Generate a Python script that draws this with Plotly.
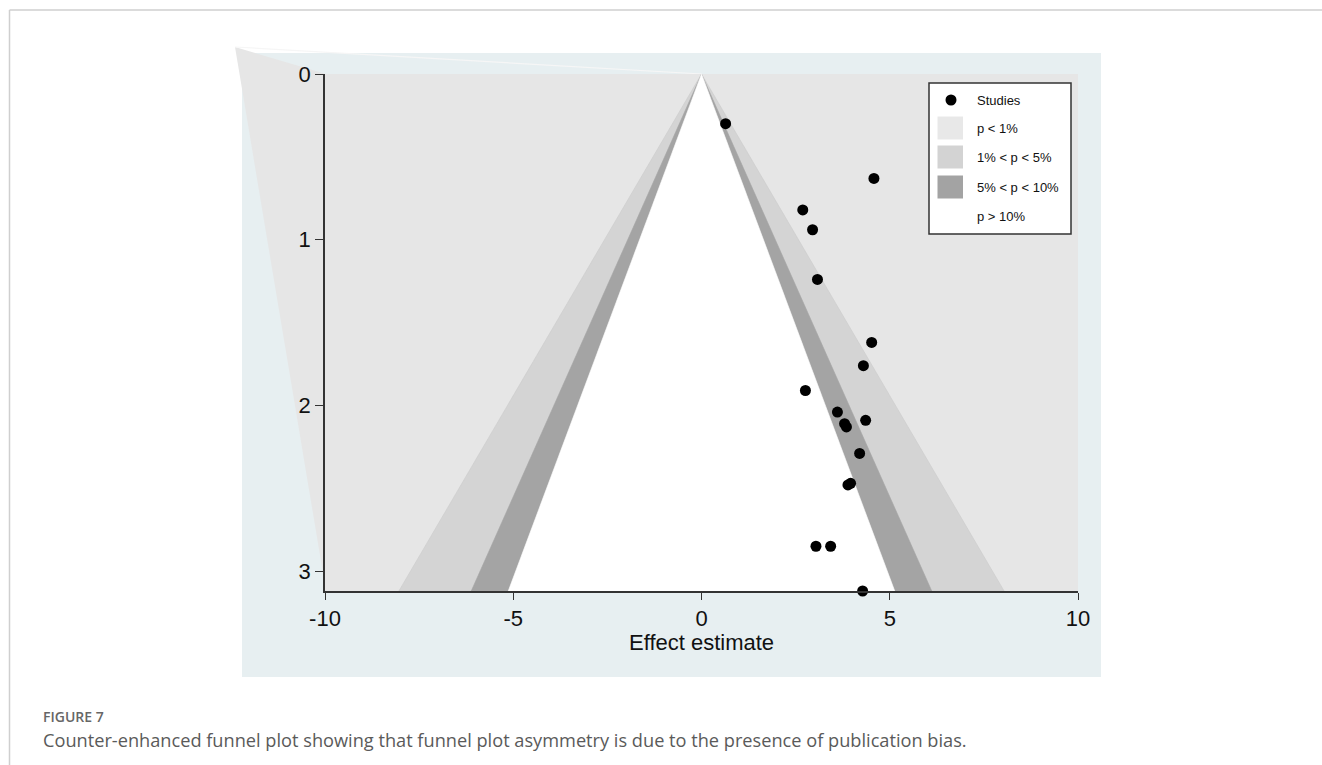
import plotly.graph_objects as go

# ---------------- data ----------------
effect = [0.64, 4.58, 2.69, 2.95, 3.08, 4.52, 4.30, 2.76, 3.61, 4.36,
          3.80, 3.85, 4.20, 3.89, 3.96, 3.04, 3.43, 4.28]
std_err = [0.30, 0.63, 0.82, 0.94, 1.24, 1.62, 1.76, 1.91, 2.04, 2.09,
           2.11, 2.13, 2.29, 2.48, 2.47, 2.85, 2.85, 3.12]
se_max = 3.12
x_range = [-10, 10]
z_levels = [2.576, 1.96, 1.645]          # 1%, 5%, 10% two-sided
band_colors = ["#d4d4d4", "#a4a4a4", "#ffffff"]
p1_color = "#e6e6e6"
legend_labels = ["Studies", "p < 1%", "1% < p < 5%", "5% < p < 10%", "p > 10%"]
legend_swatches = [None, "#e8e8e8", "#d3d3d3", "#a3a3a3", None]
x_ticks = [-10, -5, 0, 5, 10]
x_ticktext = ["-10", "-5", "0", "5", "10"]
y_ticks = [0, 1, 2, 3]
caption_label = "FIGURE 7"
caption_text = ("Counter-enhanced funnel plot showing that funnel plot asymmetry "
                "is due to the presence of publication bias.")

# ---------------- layout geometry (pixels) ----------------
W, H = 1322, 765
PL, PR, PT, PB = 325, 1078, 74, 591   # plot area edges


def px(x):
    return (x - PL) / (PR - PL)


def py(y):
    return (PB - y) / (PB - PT)


fig = go.Figure()

# p < 1% region (whole plot area)
fig.add_trace(go.Scatter(
    x=[x_range[0], x_range[1], x_range[1], x_range[0], x_range[0]],
    y=[0, 0, se_max, se_max, 0],
    mode="lines", fill="toself", fillcolor=p1_color,
    line=dict(width=0, color=p1_color), hoverinfo="skip", showlegend=False,
))

# contour regions
for z, c in zip(z_levels, band_colors):
    fig.add_trace(go.Scatter(
        x=[0, -z * se_max, z * se_max, 0],
        y=[0, se_max, se_max, 0],
        mode="lines", fill="toself", fillcolor=c,
        line=dict(width=0.6, color=c if c != band_colors[0] else "#cbcbcb"),
        hoverinfo="skip", showlegend=False,
    ))

# studies
fig.add_trace(go.Scatter(
    x=effect, y=std_err, mode="markers",
    marker=dict(color="black", size=11),
    cliponaxis=False, showlegend=False, name="Studies",
))

shapes = []
# card border lines
shapes.append(dict(type="line", xref="paper", yref="paper",
                   x0=px(9.5), x1=px(W), y0=py(10), y1=py(10),
                   line=dict(color="#cfcfcf", width=1.5), layer="below"))
shapes.append(dict(type="line", xref="paper", yref="paper",
                   x0=px(9.5), x1=px(9.5), y0=py(10), y1=py(H),
                   line=dict(color="#cfcfcf", width=1.5), layer="below"))
# blue panel
shapes.append(dict(type="rect", xref="paper", yref="paper",
                   x0=px(242), x1=px(1101), y0=py(53), y1=py(677),
                   fillcolor="#e7eff1", line=dict(width=0), layer="below"))
# rendering artifact: stray grey sliver and faint line at top left
shapes.append(dict(type="path", xref="paper", yref="paper",
                   path=f"M{px(235)},{py(47)} L{px(326)},{py(74)} L{px(326)},{py(591)} Z",
                   fillcolor=p1_color, line=dict(width=0), layer="below"))
shapes.append(dict(type="line", xref="paper", yref="paper",
                   x0=px(235), x1=px(701.7), y0=py(47), y1=py(74),
                   line=dict(color="#f6f6f6", width=1.2), layer="below"))

# legend box
LX0, LX1, LY0, LY1 = 929, 1071, 83, 234
shapes.append(dict(type="rect", xref="paper", yref="paper",
                   x0=px(LX0), x1=px(LX1), y0=py(LY0), y1=py(LY1),
                   fillcolor="white", line=dict(color="#333333", width=1.5)))
row_y = [100, 128, 157, 187, 216]
annotations = []
for lab, sw, ry in zip(legend_labels, legend_swatches, row_y):
    if lab == "Studies":
        shapes.append(dict(type="circle", xref="paper", yref="paper",
                           x0=px(945.5), x1=px(956.5), y0=py(ry - 5.5), y1=py(ry + 5.5),
                           fillcolor="black", line=dict(width=0)))
    elif sw is not None:
        shapes.append(dict(type="rect", xref="paper", yref="paper",
                           x0=px(937.5), x1=px(963), y0=py(ry - 11.5), y1=py(ry + 11.5),
                           fillcolor=sw, line=dict(width=0)))
    annotations.append(dict(text=lab, xref="paper", yref="paper",
                            x=px(975), y=py(ry), xanchor="left", yanchor="middle",
                            showarrow=False,
                            font=dict(family="Liberation Sans, Arial", size=13, color="#111")))

# axis title
annotations.append(dict(text="Effect estimate", xref="x", yref="paper",
                        x=0, y=py(642), xanchor="center", yanchor="middle",
                        showarrow=False,
                        font=dict(family="Liberation Sans, Arial", size=22, color="#111")))
# caption
annotations.append(dict(text=caption_label, xref="paper", yref="paper",
                        x=px(41), y=py(716), xanchor="left", yanchor="middle",
                        showarrow=False,
                        font=dict(family="Open Sans", size=14, color="#666666", weight=600)))
annotations.append(dict(text=caption_text, xref="paper", yref="paper",
                        x=px(41), y=py(740), xanchor="left", yanchor="middle",
                        showarrow=False,
                        font=dict(family="Open Sans", size=18.2, color="#5a5a5a")))

axis_font = dict(family="Liberation Sans, Arial", size=22, color="#111")
fig.update_layout(
    width=W, height=H, autosize=False,
    margin=dict(l=PL, r=W - PR, t=PT, b=H - PB, pad=0),
    paper_bgcolor="white", plot_bgcolor=p1_color,
    shapes=shapes, annotations=annotations, showlegend=False,
    xaxis=dict(range=x_range, tickvals=x_ticks, ticktext=x_ticktext,
               showgrid=False, zeroline=False, showline=True,
               linecolor="#333333", linewidth=1.5,
               ticks="outside", ticklen=7, tickwidth=1.3, tickcolor="#333333",
               tickfont=axis_font, fixedrange=True),
    yaxis=dict(range=[se_max, 0], tickvals=y_ticks,
               showgrid=False, zeroline=False, showline=True,
               linecolor="#333333", linewidth=1.5,
               ticks="outside", ticklen=8, tickwidth=1.3, tickcolor="#333333",
               tickfont=axis_font, fixedrange=True),
)

fig.write_html("out.html", config={"displayModeBar": False})
